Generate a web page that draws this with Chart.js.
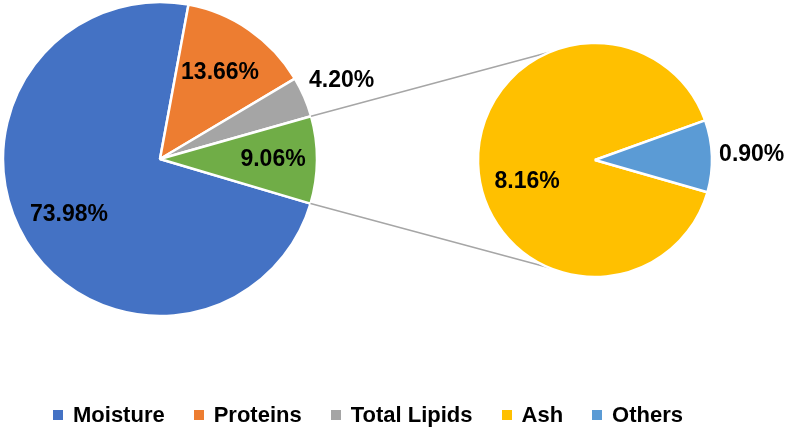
<!DOCTYPE html>
<html>
<head>
<meta charset="utf-8">
<script src="https://cdn.jsdelivr.net/npm/chart.js@4/dist/chart.umd.min.js"></script>
<style>
    html, body { margin: 0; padding: 0; background: #fff; overflow: hidden; }
    #stage { position: relative; width: 787px; height: 431px; }
    .layer { position: absolute; left: 0; top: 0; width: 787px; height: 431px; }
    #legend {
        position: absolute; left: 53px; top: 404px;
        display: flex; align-items: center;
        font: bold 22px "Liberation Sans", Arial, sans-serif; line-height: 22px; color: #000;
    }
    #legend .item { display: flex; align-items: center; margin-right: 29px; }
    #legend .box { width: 10px; height: 10px; margin-right: 10px; }
</style>
</head>
<body>
<div id="stage">
    <div class="layer"><canvas id="chart-main"></canvas></div>
    <div class="layer"><canvas id="chart-sub"></canvas></div>
    <div id="legend"></div>
</div>
<script>
    /* ── Data ── */
    var mainLabels = ['Moisture', 'Proteins', 'Total Lipids', 'Other'];
    var mainValues = [73.98, 13.66, 4.20, 9.06];
    var subLabels = ['Ash', 'Others'];
    var subValues = [8.16, 0.90];
    var legendLabels = ['Moisture', 'Proteins', 'Total Lipids', 'Ash', 'Others'];

    var mainColors = ['#4472C4', '#ED7D31', '#A5A5A5', '#70AD47'];
    var subColors = ['#FFC000', '#5B9BD5'];
    var legendColors = ['#4472C4', '#ED7D31', '#A5A5A5', '#FFC000', '#5B9BD5'];

    var labelFont = 'bold 23px "Liberation Sans", Arial, sans-serif';

    // Percent labels placed along each slice's mid angle
    var sliceLabels = {
        id: 'sliceLabels',
        afterDatasetsDraw: function (chart, args, opts) {
            var ctx = chart.ctx;
            var arcs = chart.getDatasetMeta(0).data;
            var values = chart.data.datasets[0].data;
            ctx.save();
            ctx.font = labelFont;
            ctx.fillStyle = '#000';
            ctx.textAlign = 'center';
            ctx.textBaseline = 'middle';
            arcs.forEach(function (arc, i) {
                var mid = (arc.startAngle + arc.endAngle) / 2 + (opts.shift[i] || 0) * Math.PI / 180;
                var r = arc.outerRadius * opts.radius[i];
                ctx.fillText(values[i].toFixed(2) + '%', arc.x + Math.cos(mid) * r, arc.y + Math.sin(mid) * r);
            });
            ctx.restore();
        }
    };

    function baseOptions(padding, radius, rotation, labelOpts) {
        return {
            responsive: false,
            animation: false,
            radius: radius,
            rotation: rotation,
            layout: { padding: padding },
            plugins: {
                legend: { display: false },
                tooltip: { enabled: false },
                sliceLabels: labelOpts
            }
        };
    }

    var mainCanvas = document.getElementById('chart-main');
    mainCanvas.width = 787; mainCanvas.height = 431;
    var mainChart = new Chart(mainCanvas.getContext('2d'), {
        type: 'pie',
        data: {
            labels: mainLabels,
            datasets: [{ data: mainValues, backgroundColor: mainColors, borderColor: '#fff', borderWidth: 2.5 }]
        },
        options: baseOptions({ left: 0, right: 467, top: 0, bottom: 113 }, 157, 106.5,
            { radius: [0.68, 0.67, 1.26, 0.72], shift: [0, 0, 0, 0] }),
        plugins: [sliceLabels]
    });

    // Connector lines from the "Other" slice edges to the secondary pie
    var connectors = {
        id: 'connectors',
        beforeDatasetsDraw: function (chart) {
            var src = mainChart.getDatasetMeta(0).data[3];
            var dst = chart.getDatasetMeta(0).data[0];
            var a1 = src.startAngle, a2 = src.endAngle;
            var b = 23 * Math.PI / 180;
            var ctx = chart.ctx;
            ctx.save();
            ctx.strokeStyle = '#A6A6A6';
            ctx.lineWidth = 1.5;
            ctx.beginPath();
            ctx.moveTo(src.x + Math.cos(a1) * src.outerRadius, src.y + Math.sin(a1) * src.outerRadius);
            ctx.lineTo(dst.x - Math.sin(b) * dst.outerRadius, dst.y - Math.cos(b) * dst.outerRadius);
            ctx.moveTo(src.x + Math.cos(a2) * src.outerRadius, src.y + Math.sin(a2) * src.outerRadius);
            ctx.lineTo(dst.x - Math.sin(b) * dst.outerRadius, dst.y + Math.cos(b) * dst.outerRadius);
            ctx.stroke();
            ctx.restore();
        }
    };

    var subCanvas = document.getElementById('chart-sub');
    subCanvas.width = 787; subCanvas.height = 431;
    var subChart = new Chart(subCanvas.getContext('2d'), {
        type: 'pie',
        data: {
            labels: subLabels,
            datasets: [{ data: subValues, backgroundColor: subColors, borderColor: '#fff', borderWidth: 2.5 }]
        },
        options: baseOptions({ left: 478, right: 75, top: 43, bottom: 154 }, 117, 106,
            { radius: [0.61, 1.34], shift: [-16, 0] }),
        plugins: [sliceLabels, connectors]
    });

    /* ── Legend ── */
    var legend = document.getElementById('legend');
    legendLabels.forEach(function (name, i) {
        var item = document.createElement('div');
        item.className = 'item';
        var box = document.createElement('span');
        box.className = 'box';
        box.style.background = legendColors[i];
        var txt = document.createElement('span');
        txt.textContent = name;
        item.appendChild(box);
        item.appendChild(txt);
        legend.appendChild(item);
    });
</script>
</body>
</html>
